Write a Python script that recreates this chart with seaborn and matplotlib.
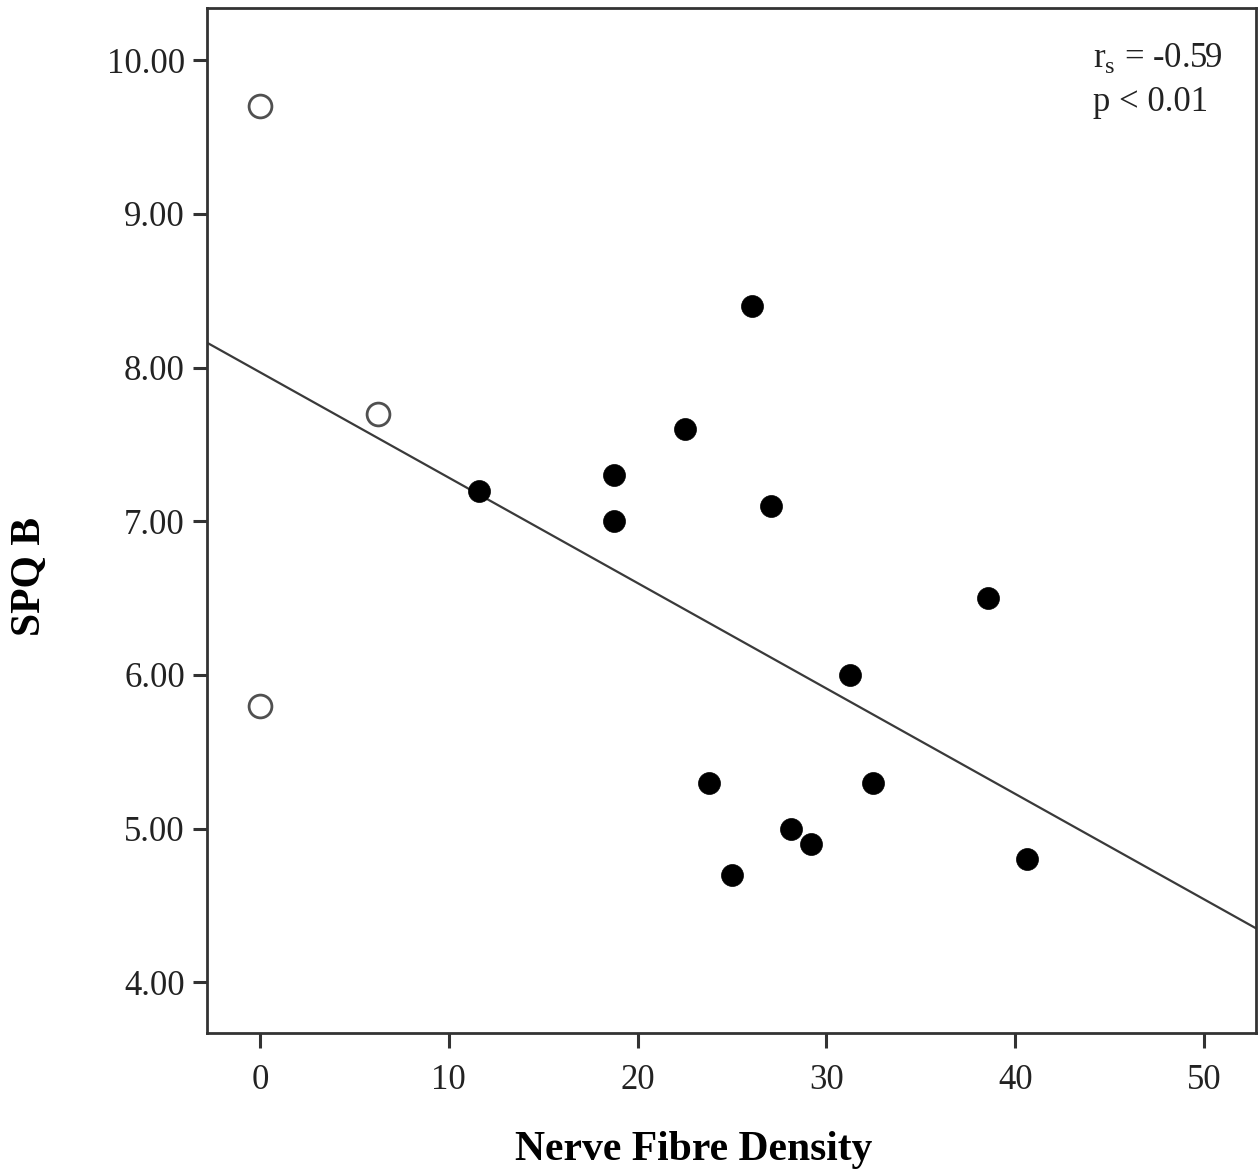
import matplotlib
matplotlib.use("Agg")
import matplotlib.pyplot as plt
import seaborn as sns
import pandas as pd
import numpy as np

# Data
filled_x = [11.6, 18.75, 18.75, 22.5, 26.06, 27.07, 38.56, 31.25, 23.78, 32.47, 28.1, 29.18, 25.0, 40.6]
filled_y = [7.2, 7.3, 7.0, 7.6, 8.4, 7.1, 6.5, 6.0, 5.3, 5.3, 5.0, 4.9, 4.7, 4.8]
open_x = [0.0, 6.25, 0.0]
open_y = [9.7, 7.7, 5.8]
fit_intercept = 7.97
fit_slope = -0.0686
x_ticks = [0, 10, 20, 30, 40, 50]
y_ticks = [4.0, 5.0, 6.0, 7.0, 8.0, 9.0, 10.0]
annotation_lines = [r"r$_{\mathregular{s}}$ = -0.59", "p < 0.01"]

sns.set_theme(style="white")
plt.rcParams["font.family"] = ["Liberation Serif", "DejaVu Serif"]
plt.rcParams["mathtext.fontset"] = "custom"
plt.rcParams["mathtext.rm"] = "Liberation Serif"

df_filled = pd.DataFrame({"x": filled_x, "y": filled_y})
df_open = pd.DataFrame({"x": open_x, "y": open_y})

fig = plt.figure(figsize=(12.6, 11.74), dpi=100)
ax = fig.add_axes([0.1643, 0.1201, 0.8325, 0.8731])

sns.scatterplot(data=df_filled, x="x", y="y", ax=ax, s=250, color="black",
                edgecolor="black", linewidth=0.5, zorder=3)
sns.scatterplot(data=df_open, x="x", y="y", ax=ax, s=270, facecolor="white",
                edgecolor="#505050", linewidth=2.0, zorder=3)

ax.axline((0, fit_intercept), slope=fit_slope, color="#3a3a3a", linewidth=1.6, zorder=2)

ax.set_xlim(-2.8, 52.75)
ax.set_ylim(3.67, 10.34)
ax.set_xticks(x_ticks)
ax.set_xticklabels([str(t) for t in x_ticks])
ax.set_yticks(y_ticks)
ax.set_yticklabels([f"{t:.2f}" for t in y_ticks])

for sp in ax.spines.values():
    sp.set_color("#333333")
    sp.set_linewidth(2.0)
    sp.set_visible(True)

ax.tick_params(axis="both", which="major", direction="out", length=10, width=2.2,
               color="#333333", labelsize=25, labelcolor="#222222", pad=6,
               bottom=True, left=True)
ax.tick_params(axis="x", length=11, pad=11)

ax.set_xlabel("Nerve Fibre Density", fontsize=30, fontweight="bold", color="black",
              va="center", ha="center")
ax.xaxis.set_label_coords(0.464, -0.114)
ax.set_ylabel("SPQ B", fontsize=30, fontweight="bold", color="black",
              va="center", ha="center")
ax.yaxis.set_label_coords(-0.169, 0.445)

ax.text(0.845, 0.951, annotation_lines[0], transform=ax.transAxes, fontsize=25,
        color="#222222", ha="left", va="center")
ax.text(0.845, 0.908, annotation_lines[1], transform=ax.transAxes, fontsize=25,
        color="#222222", ha="left", va="center")

fig.savefig("out.png", dpi=100, facecolor="white")
